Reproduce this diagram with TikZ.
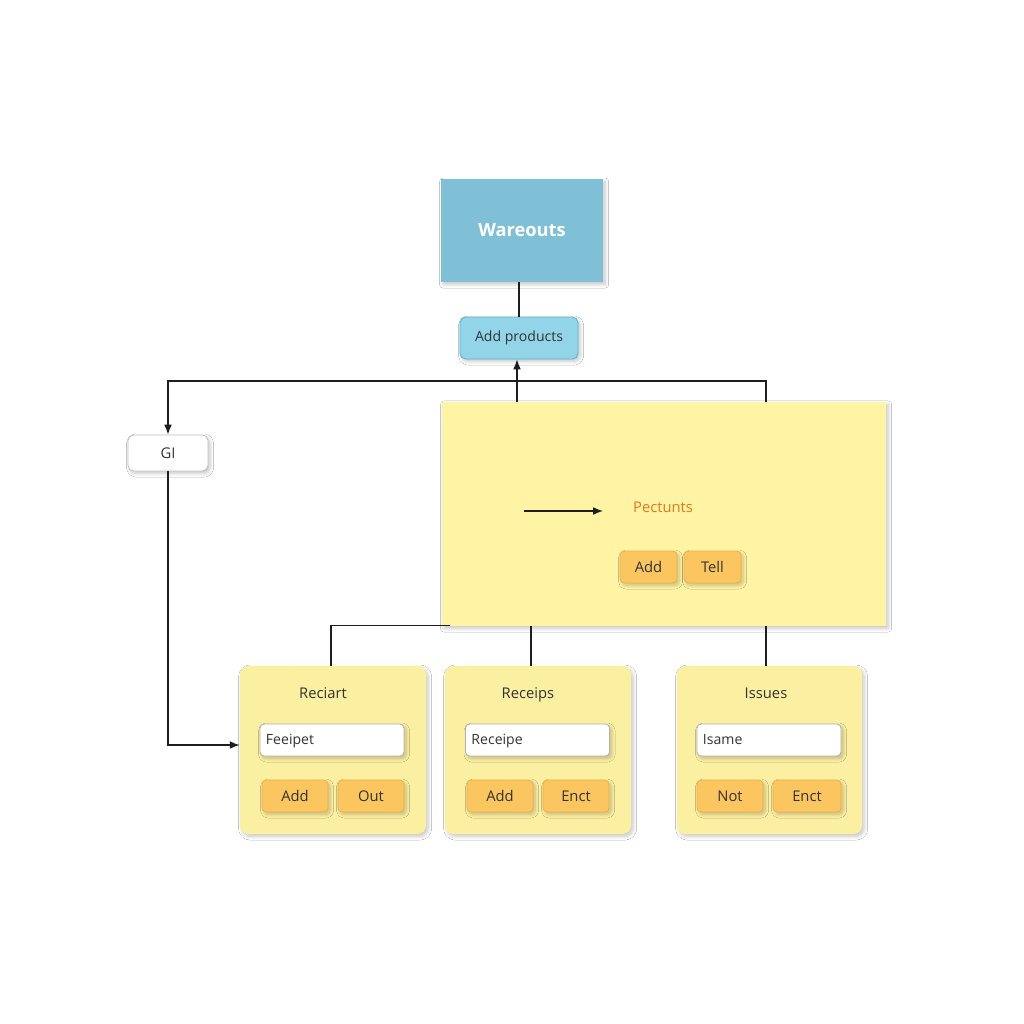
\documentclass[tikz,border=0pt]{standalone}
\usepackage{fontspec}
\setmainfont{Open Sans}
\usetikzlibrary{arrows.meta,shadows.blur,calc}
\definecolor{wareblue}{HTML}{80C0D6}
\definecolor{addblue}{HTML}{92D5E8}
\definecolor{addborder}{HTML}{5AAECC}
\definecolor{bigyellow}{HTML}{FEF4A3}
\definecolor{cardyellow}{HTML}{FBF0A2}
\definecolor{btnorange}{HTML}{FBC560}
\definecolor{btnborder}{HTML}{EFAE48}
\definecolor{pectorange}{HTML}{E07A1F}
\definecolor{txtdark}{HTML}{333333}
\definecolor{linedark}{HTML}{1E1E1E}
\tikzset{
  shad/.style={blur shadow={shadow xshift=1.5pt,shadow yshift=-1.8pt,shadow opacity=22,shadow blur steps=8,shadow blur radius=2.5pt}},
  warebox/.style={fill=wareblue,draw=none,minimum width=4.05cm,minimum height=2.575cm,text=white,font=\fontsize{13}{15}\selectfont\bfseries,shad},
  addbox/.style={fill=addblue,draw=addborder,line width=0.6pt,rounded corners=4pt,minimum width=2.95cm,minimum height=1.05cm,text=txtdark,font=\fontsize{10}{12}\selectfont,shad},
  gibox/.style={fill=white,draw=black!25,line width=0.6pt,rounded corners=4pt,minimum width=2.0cm,minimum height=0.9cm,text=txtdark,font=\fontsize{10.5}{12}\selectfont,shad},
  bigbox/.style={fill=bigyellow,draw=none,minimum width=11.1cm,minimum height=5.6cm,shad},
  card/.style={fill=cardyellow,draw=none,rounded corners=6pt,minimum width=4.65cm,minimum height=4.2cm,shad},
  cardtitle/.style={text=txtdark,font=\fontsize{10.5}{12}\selectfont,text height=7.5pt,text depth=0pt},
  field/.style={fill=white,draw=black!30,line width=0.6pt,rounded corners=3pt,minimum width=3.6cm,minimum height=0.8cm,text=txtdark,font=\fontsize{10}{12}\selectfont,text width=3.3cm,align=left,inner xsep=4pt,text height=7.5pt,text depth=1.5pt,shad},
  btn/.style={fill=btnorange,draw=btnborder,line width=0.5pt,rounded corners=3pt,minimum width=1.65cm,minimum height=0.8cm,text=txtdark,font=\fontsize{10.5}{12}\selectfont,shad},
  sbtn/.style={btn,minimum width=1.425cm},
  conn/.style={draw=linedark,line width=0.9pt},
  arr/.style={conn,-{Latex[length=7pt,width=5.5pt]}},
}
\begin{document}
\begin{tikzpicture}[x=0.025cm,y=-0.025cm]
\useasboundingbox[fill=white] (0,0) rectangle (1024,1024);
% top boxes
\node[warebox] (ware) at (522,230.5) {Wareouts};
\node[addbox] (addp) at (519,338) {Add products};
\node[gibox] (gi) at (168,453) {GI};
% big yellow box
\node[bigbox] (big) at (664,514) {};
\node[text=pectorange,font=\fontsize{10.5}{12}\selectfont] (pect) at (663,507) {Pectunts};
\node[sbtn] (badd) at (648.5,567) {Add};
\node[sbtn] (btell) at (712.5,567) {Tell};
\coordinate (a1) at (524,511);
\coordinate (a2) at (603,511);
% cards
\node[card] (rec) at (333,750) {};
\node[card] (rcp) at (538,750) {};
\node[card,minimum width=4.625cm] (iss) at (769.5,750) {};
\node[cardtitle] (rect) at (323,693) {Reciart};
\node[cardtitle] (rcpt) at (528,693) {Receips};
\node[cardtitle] (isst) at (766,693) {Issues};
\node[field] (recf) at (332,740) {Feeipet};
\node[field] (rcpf) at (537.5,740) {Receipe};
\node[field] (issf) at (769,740) {Isame};
\node[btn] (recb1) at (295,796) {Add};
\node[btn] (recb2) at (371,796) {Out};
\node[btn] (rcpb1) at (500,796) {Add};
\node[btn] (rcpb2) at (576,796) {Enct};
\node[btn] (issb1) at (730,796) {Not};
\node[btn,minimum width=1.7cm] (issb2) at (807,796) {Enct};
% helper coordinates
\coordinate (hy) at (0,381);
\coordinate (bR) at (766,402);
\coordinate (bL) at (517,402);
\coordinate (bBL) at (450,625.5);
\coordinate (vx1) at (331,0);
\coordinate (vx2) at (531,0);
\coordinate (vx3) at (766,0);
% connectors
\draw[conn] (ware.south -| addp.north) -- (addp.north);
\draw[arr] (bL) -- (bL |- addp.south);
\draw[arr] (bR) -- (bR |- hy) -| (gi.north);
\draw[arr] (gi.south) |- (rec.west |- 0,745);
\draw[arr] (a1) -- (a2);
\draw[conn] (bBL) -| (rec.north -| vx1);
\draw[conn] (big.south -| vx2) -- (rcp.north -| vx2);
\draw[conn] (big.south -| vx3) -- (iss.north -| vx3);
\end{tikzpicture}
\end{document}
